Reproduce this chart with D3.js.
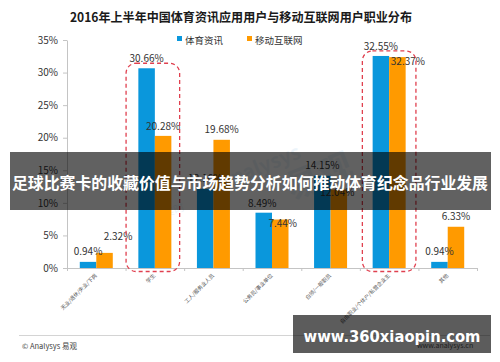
<!DOCTYPE html>
<html lang="zh">
<head>
<meta charset="utf-8">
<title>2016年上半年中国体育资讯应用用户与移动互联网用户职业分布</title>
<script src="https://cdn.jsdelivr.net/npm/d3@7"></script>
<style>
  body { margin: 0; background: #fff; }
  svg { display: block; font-family: "Noto Sans CJK SC", "Noto Sans", sans-serif; }
</style>
</head>
<body>
<script>
// categories and values
var categories = ["无业/退休/失业/下岗", "学生", "工人/服务业人员", "公务员/事业单位",
                  "白领/一般职员", "自由职业/个体户/私营企业主", "其他"];
var seriesNames = ["体育资讯", "移动互联网"];
var sportsNews = [0.94, 30.66, 12.16, 8.49, 14.15, 32.55, 0.94];
var mobileNet  = [2.32, 20.28, 19.68, 7.44, 12.04, 32.37, 6.33];
var yTicks = [0, 5, 10, 15, 20, 25, 30, 35];
var highlighted = ["学生", "自由职业/个体户/私营企业主"];

var colors = ["#0a97dc", "#ff9a00"];
var W = 500, H = 362;

var svg = d3.select("body").append("svg")
  .attr("width", W).attr("height", H);

// scales
var x0 = d3.scaleBand().domain(categories).range([67, 477]);
var groupW = 33;
var x1 = d3.scaleBand().domain(seriesNames).range([0, groupW]);
var y = d3.scaleLinear().domain([0, 35]).range([268, 40]);

// title
svg.append("text")
  .attr("x", 241).attr("y", 22)
  .attr("text-anchor", "middle")
  .attr("font-size", 12.5).attr("font-weight", "bold").attr("fill", "#1a1a1a")
  .attr("textLength", 342).attr("lengthAdjust", "spacingAndGlyphs")
  .text("2016年上半年中国体育资讯应用用户与移动互联网用户职业分布");

// watermark
var wm = svg.append("g").attr("opacity", 0.09).attr("fill", "#3a8fd0");
wm.append("text").attr("transform", "translate(292,200) rotate(-22)")
  .attr("font-size", 34).attr("font-weight", "bold").text("易观");
wm.append("text").attr("transform", "translate(222,190) rotate(-22)")
  .attr("font-size", 20).attr("font-weight", "bold").text("Analysys");
wm.append("text").attr("transform", "translate(165,218) rotate(-22)")
  .attr("font-size", 11).text("实时");

// y axis
var yAxis = svg.append("g")
  .attr("transform", "translate(67,0)")
  .call(d3.axisLeft(y).tickValues(yTicks).tickFormat(function(d) { return d + "%"; })
        .tickSize(4).tickSizeOuter(0).tickPadding(5));
yAxis.select(".domain").attr("stroke", "#c4c4c4");
yAxis.selectAll(".tick line").attr("stroke", "#c4c4c4");
yAxis.selectAll(".tick text").attr("font-size", 10).attr("fill", "#333")
  .attr("font-family", "\"Noto Sans CJK SC\", sans-serif");

// x axis (ticks at band boundaries)
var xb = d3.scaleLinear().domain([0, categories.length]).range(x0.range());
var xAxis = svg.append("g")
  .attr("transform", "translate(0," + y(0) + ")")
  .call(d3.axisBottom(xb).ticks(categories.length).tickFormat("").tickSize(3).tickSizeOuter(0));
xAxis.select(".domain").attr("stroke", "#c4c4c4");
xAxis.selectAll(".tick line").attr("stroke", "#c4c4c4");

// category labels, rotated
svg.append("g").selectAll("text")
  .data(categories).enter().append("text")
  .attr("transform", function(d) {
    return "translate(" + (x0(d) + x0.bandwidth() / 2 + 1) + "," + 276 + ") rotate(-45)";
  })
  .attr("text-anchor", "end")
  .attr("font-size", 5.3).attr("fill", "#555")
  .text(function(d) { return d; });

// bars
var rows = categories.map(function(c, i) {
  return { cat: c, i: i, vals: [sportsNews[i], mobileNet[i]] };
});
var off = (x0.bandwidth() - groupW) / 2;

var groups = svg.append("g").selectAll("g")
  .data(rows).enter().append("g")
  .attr("transform", function(d) { return "translate(" + (x0(d.cat) + off) + ",0)"; });

groups.selectAll("rect")
  .data(function(d) { return d.vals.map(function(v, k) { return { s: seriesNames[k], k: k, v: v }; }); })
  .enter().append("rect")
  .attr("x", function(d) { return x1(d.s); })
  .attr("width", x1.bandwidth())
  .attr("y", function(d) { return y(d.v); })
  .attr("height", function(d) { return y(0) - y(d.v); })
  .attr("fill", function(d) { return colors[d.k]; });

// value labels (with the hand nudges of the original)
var nudge = [
  [[0, -7], [13.5, -12.4]],
  [[0, -6.5], [0, -6.3]],
  [[0, -7], [0, -7.2]],
  [[-1.5, -6], [2.5, 7]],
  [[0, -6.5], [-1.5, 6]],
  [[0, -6.3], [10.5, 7.5]],
  [[0, -6.5], [0, -6.5]]
];
groups.each(function(row) {
  var g = d3.select(this);
  row.vals.forEach(function(v, k) {
    var n = nudge[row.i][k];
    g.append("text")
      .attr("x", x1(seriesNames[k]) + x1.bandwidth() / 2 + n[0])
      .attr("y", y(v) + n[1])
      .attr("text-anchor", "middle")
      .attr("font-size", 10).attr("fill", "#333")
      .text(v.toFixed(2) + "%");
  });
});

// dashed highlight boxes
highlighted.forEach(function(c) {
  var i = categories.indexOf(c);
  var top = y(Math.max(sportsNews[i], mobileNet[i])) - 5;
  svg.append("rect")
    .attr("x", x0(c) + 0.5 + (i === 5 ? 2 : 0))
    .attr("width", x0.bandwidth() - 5)
    .attr("y", top)
    .attr("height", y(0) + 3.5 - top)
    .attr("rx", 10).attr("ry", 10)
    .attr("fill", "none").attr("stroke", "#e0404f")
    .attr("stroke-width", 1.3).attr("stroke-dasharray", "4,3");
});

// legend
var legend = svg.append("g").selectAll("g")
  .data(seriesNames).enter().append("g")
  .attr("transform", function(d, i) { return "translate(" + (177 + i * 70) + ",40)"; });
legend.append("rect").attr("x", 0).attr("y", -4).attr("width", 5).attr("height", 5)
  .attr("fill", function(d, i) { return colors[i]; });
legend.append("text").attr("x", 8).attr("y", 4)
  .attr("font-size", 9.5).attr("fill", "#333")
  .text(function(d) { return d; });

// footer
svg.append("line").attr("x1", 19).attr("x2", 490).attr("y1", 335.5).attr("y2", 335.5)
  .attr("stroke", "#d4d4d4");
svg.append("text").attr("x", 22).attr("y", 349)
  .attr("font-size", 7.5).attr("fill", "#444")
  .text("© Analysys 易观");
svg.append("text").attr("x", 417).attr("y", 348)
  .attr("font-size", 7).attr("fill", "#555")
  .text("www.analysys.cn");

// overlay banners
svg.append("rect").attr("x", 10).attr("y", 152).attr("width", 481).attr("height", 58)
  .attr("fill", "rgba(0,0,0,0.62)");
svg.append("text").attr("x", 250).attr("y", 189)
  .attr("text-anchor", "middle")
  .attr("font-size", 16).attr("font-weight", "bold").attr("fill", "#fff")
  .attr("textLength", 476).attr("lengthAdjust", "spacingAndGlyphs")
  .text("足球比赛卡的收藏价值与市场趋势分析如何推动体育纪念品行业发展");

svg.append("rect").attr("x", 293).attr("y", 315).attr("width", 198).attr("height", 38)
  .attr("fill", "rgba(0,0,0,0.64)");
svg.append("text").attr("x", 392).attr("y", 342)
  .attr("text-anchor", "middle")
  .attr("font-family", "\"DejaVu Sans\", sans-serif")
  .attr("font-size", 15.5).attr("font-weight", "bold").attr("fill", "#fff")
  .attr("textLength", 177).attr("lengthAdjust", "spacingAndGlyphs")
  .text("www.360xiaopin.com");
</script>
</body>
</html>
